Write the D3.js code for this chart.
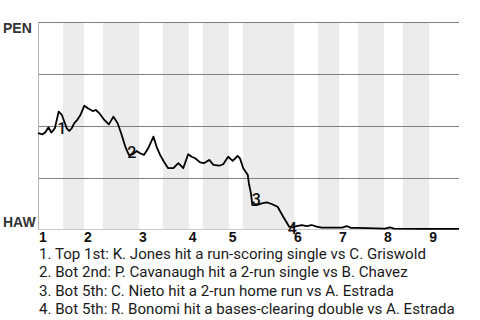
<!DOCTYPE html>
<html>
<head>
<meta charset="utf-8">
<script src="https://cdn.jsdelivr.net/npm/d3@7"></script>
<style>
  body { margin: 0; background: #fff; }
  svg { display: block; }
</style>
</head>
<body>
<script>
// Set Dimensions

const width = 480;
const height = 320;
const margin = {top: 22, right: 21, bottom: 90, left: 38};

// Data: event index and Penn win probability (%)

const eventIndex = [0, 1.3, 2.1, 3.0, 3.8, 4.8, 5.9, 6.8, 8.2, 8.9, 9.6, 10.3, 11.3, 12.1, 13.2, 14.2, 15.6, 16.5, 17.5, 18.9,
  20.2, 21.5, 22.7, 23.7, 24.9, 25.9, 27.0, 28.1, 29.1, 30.2, 31.4, 32.9, 33.8, 34.8, 35.9, 37.1, 38.6, 40.0, 41.4, 42.8,
  43.8, 44.8, 46.2, 47.3, 48.8, 50.0, 51.6, 52.8, 54.2, 55.5, 56.9, 57.6, 58.5, 59.8, 60.1, 60.7, 61.1, 62.3, 63.8, 65.2,
  66.6, 68.3, 69.9, 71.6, 72.3, 73.7, 75.2, 76.6, 78.0, 79.4, 80.9, 84.7, 86.7, 88.0, 89.2, 91.2, 98.9, 100.3, 101.5, 108.9, 120];
const penWinPct = [46.6, 46.0, 47.0, 49.4, 46.8, 48.9, 56.9, 55.3, 48.9, 47.6, 48.9, 51.3, 53.2, 55.3, 59.8, 58.5, 57.2, 57.7, 56.1, 52.9,
  50.8, 54.5, 51.3, 46.5, 40.0, 36.1, 36.4, 38.0, 36.9, 36.1, 39.3, 44.9, 40.0, 36.1, 32.8, 29.7, 29.7, 32.1, 29.7, 36.4,
  35.2, 34.5, 32.5, 32.1, 33.7, 31.3, 30.9, 31.6, 35.2, 33.2, 35.6, 34.3, 29.7, 26.4, 22.5, 17.6, 12.0, 12.0, 12.8, 13.3,
  12.5, 11.2, 6.4, 1.6, 1.3, 1.9, 2.4, 1.9, 2.4, 1.6, 1.1, 1.1, 1.1, 1.9, 1.0, 1.0, 0.7, 1.3, 0.7, 0.5, 0.5];

// Half-inning boundaries (event index) and inning labels

const halfInningStarts = [0, 7.1, 13.1, 18.5, 28.8, 35.6, 43.0, 47.0, 54.4, 58.4, 73.0, 79.8, 85.8, 91.2, 98.6, 104.0, 111.5];
const lastEvent = 120;
const innings = ["1", "2", "3", "4", "5", "6", "7", "8", "9"];

// Key plays: number, index of the point in the series, description

const playNumbers = ["1", "2", "3", "4"];
const playPoints = [6, 25, 56, 63];
const playTexts = [
  "1. Top 1st: K. Jones hit a run-scoring single vs C. Griswold",
  "2. Bot 2nd: P. Cavanaugh hit a 2-run single vs B. Chavez",
  "3. Bot 5th: C. Nieto hit a 2-run home run vs A. Estrada",
  "4. Bot 5th: R. Bonomi hit a bases-clearing double vs A. Estrada"
];

const yTicks = [25, 50, 75, 100];
const teamTop = "PEN";
const teamBottom = "HAW";

// label nudges (px) for the play numbers
const labelOffsets = [[3, 17], [3, -2], [4, -6], [3, 2]];

const series = eventIndex.map((e, i) => ({e: e, p: penWinPct[i]}));

const svg = d3.select("body")
  .append("svg")
  .attr("width", width)
  .attr("height", height);

const x = d3.scaleLinear()
  .domain([0, lastEvent])
  .range([margin.left, width - margin.right]);

const y = d3.scaleLinear()
  .domain([0, 100])
  .range([height - margin.bottom, margin.top]);

//shaded bottom halves

const bands = [];
for (let i = 1; i < halfInningStarts.length; i += 2) {
  const end = i + 1 < halfInningStarts.length ? halfInningStarts[i + 1] : lastEvent;
  bands.push([halfInningStarts[i], end]);
}

svg.selectAll("rect.band")
  .data(bands)
  .enter()
  .append("rect")
  .attr("class", "band")
  .attr("x", d => x(d[0]))
  .attr("width", d => x(d[1]) - x(d[0]))
  .attr("y", y(100))
  .attr("height", y(0) - y(100))
  .attr("fill", "#ececec");

//gridlines

svg.selectAll("line.grid")
  .data(yTicks)
  .enter()
  .append("line")
  .attr("class", "grid")
  .attr("x1", x(0))
  .attr("x2", x(lastEvent))
  .attr("y1", d => Math.round(y(d)) + 0.5)
  .attr("y2", d => Math.round(y(d)) + 0.5)
  .attr("stroke", "#808080")
  .attr("stroke-width", 1);

//axes lines

svg.append("line")
  .attr("x1", x(0))
  .attr("x2", x(lastEvent))
  .attr("y1", Math.round(y(0)) - 0.5)
  .attr("y2", Math.round(y(0)) - 0.5)
  .attr("stroke", "#c8c8c8");

svg.append("line")
  .attr("x1", Math.round(x(0)) + 0.5)
  .attr("x2", Math.round(x(0)) + 0.5)
  .attr("y1", y(100))
  .attr("y2", y(0))
  .attr("stroke", "#b4b4b4");

//team labels

svg.append("text")
  .attr("x", 3)
  .attr("y", y(100) + 11)
  .attr("font-family", "Liberation Sans, Arial, sans-serif")
  .attr("font-weight", "bold")
  .attr("font-size", 14)
  .attr("fill", "#333")
  .text(teamTop);

svg.append("text")
  .attr("x", 3)
  .attr("y", y(0) - 3)
  .attr("font-family", "Liberation Sans, Arial, sans-serif")
  .attr("font-weight", "bold")
  .attr("font-size", 14)
  .attr("fill", "#333")
  .text(teamBottom);

//inning labels

svg.selectAll("text.inning")
  .data(innings)
  .enter()
  .append("text")
  .attr("class", "inning")
  .attr("x", (d, i) => x(halfInningStarts[i * 2]) + (i === 0 ? 1 : 0))
  .attr("y", y(0) + 12)
  .attr("font-family", "Liberation Sans, Arial, sans-serif")
  .attr("font-weight", "bold")
  .attr("font-size", 14)
  .attr("fill", "#111")
  .text(d => d);

//win probability line

svg.append("path")
  .datum(series)
  .attr("fill", "none")
  .attr("stroke", "#000")
  .attr("stroke-width", 1.8)
  .attr("stroke-linejoin", "round")
  .attr("d", d3.line()
    .x(d => x(d.e))
    .y(d => y(d.p))
  );

//play numbers

svg.selectAll("text.play")
  .data(playNumbers)
  .enter()
  .append("text")
  .attr("class", "play")
  .attr("x", (d, i) => x(series[playPoints[i]].e) + labelOffsets[i][0])
  .attr("y", (d, i) => y(series[playPoints[i]].p) + labelOffsets[i][1])
  .attr("text-anchor", "middle")
  .attr("dominant-baseline", "central")
  .attr("font-family", "Roboto, sans-serif")
  .attr("font-weight", 500)
  .attr("font-size", 16)
  .attr("fill", "#111")
  .text(d => d);

//play descriptions

svg.selectAll("text.desc")
  .data(playTexts)
  .enter()
  .append("text")
  .attr("class", "desc")
  .attr("x", 39)
  .attr("y", (d, i) => 258.5 + i * 18.5)
  .attr("font-family", "Roboto, sans-serif")
  .attr("font-size", 15.1)
  .attr("fill", "#1a1a1a")
  .text(d => d);
</script>
</body>
</html>
